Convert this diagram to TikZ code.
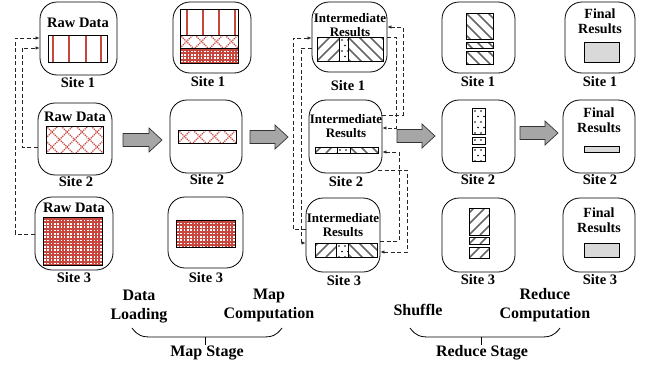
\documentclass[tikz,border=0pt]{standalone}
\usepackage{fontspec}
\setmainfont{Liberation Serif}
\usetikzlibrary{arrows.meta}
\definecolor{dred}{HTML}{C8463E}
\definecolor{arrgray}{HTML}{A6A6A6}
\definecolor{resgray}{HTML}{D9D9D9}
\newcommand\mkbox[5]{\node[sitebox, minimum width={#4-#2}, minimum height={#5-#3}] (#1) at ({(#2+#4)/2},{(#3+#5)/2}) {};}
\newcommand\hatchNE[4]{\begin{scope}\clip (#1,#2) rectangle (#3,#4);\foreach \k in {-88,-77,...,100}{\draw[hatchl] (#1+\k,#4) -- ++(80,-80);}\end{scope}\draw[inbox] (#1,#2) rectangle (#3,#4);}
\newcommand\hatchNW[4]{\begin{scope}\clip (#1,#2) rectangle (#3,#4);\foreach \k in {-88,-77,...,100}{\draw[hatchl] (#1+\k,#2) -- ++(80,80);}\end{scope}\draw[inbox] (#1,#2) rectangle (#3,#4);}
\newcommand\dotbox[4]{\begin{scope}\clip (#1,#2) rectangle (#3,#4);\foreach \i in {0,...,2}{\foreach \j in {0,...,5}{\fill ({#1+3+\i*6+mod(\j,2)*3},{#2+3+\j*5.5}) circle (0.8);}}\end{scope}\draw[inbox] (#1,#2) rectangle (#3,#4);}
\newcommand\redcross[4]{\begin{scope}\clip (#1,#2) rectangle (#3,#4);\foreach \k in {-60,-45,...,90}{\draw[redl] (#1+\k,#2) -- ++(60,60);\draw[redl] (#1+\k,#4) -- ++(60,-60);}\end{scope}\draw[inbox] (#1,#2) rectangle (#3,#4);}
\newcommand\reddots[4]{\fill[dred] (#1,#2) rectangle (#3,#4);\begin{scope}\clip (#1,#2) rectangle (#3,#4);\foreach \i in {0,...,19}{\foreach \j in {0,...,15}{\fill[white] ({#1+1+\i*3.3},{#2+1+\j*3.3}) rectangle ++(1.6,-1.6);}}\end{scope}\draw[inbox] (#1,#2) rectangle (#3,#4);}
\newcommand\bigarrow[3]{\draw[bigarr] (#1,#3-6.5) -- (#2-13,#3-6.5) -- (#2-13,#3-12) -- (#2,#3) -- (#2-13,#3+12) -- (#2-13,#3+6.5) -- (#1,#3+6.5) -- cycle;}
\begin{document}
\begin{tikzpicture}[x=1pt,y=-1pt,
  sitebox/.style={draw, line width=0.8pt, rounded corners=17pt, inner sep=0pt},
  inbox/.style={draw, line width=0.7pt},
  hatchl/.style={line width=1.6pt, black!60},
  redl/.style={dred, line width=1.2pt, dash pattern=on 1.2pt off 0.9pt},
  redv/.style={dred, line width=1.2pt},
  dl/.style={line width=0.7pt, dash pattern=on 4pt off 2.5pt, black!85},
  tip/.style={-{Latex[length=4pt,width=3.5pt]}},
  lbl/.style={font=\fontsize{14.5}{15}\selectfont\bfseries, inner sep=0pt},
  intxt/.style={font=\fontsize{13}{14}\selectfont\bfseries, align=center, inner sep=0pt},
  fintxt/.style={font=\fontsize{14}{14.5}\selectfont\bfseries, align=center, inner sep=0pt},
  bot/.style={font=\fontsize{16}{19}\selectfont\bfseries, align=center, inner sep=0pt},
  bigarr/.style={draw=black!80, fill=arrgray, line width=0.7pt, line join=miter}]
\useasboundingbox (0,0) rectangle (651,367);

% ---- boxes
\mkbox{a1}{40}{2}{117}{75}
\mkbox{a2}{38}{103}{112}{175}
\mkbox{a3}{35}{197}{113}{270}
\mkbox{b1}{173}{2}{251}{73}
\mkbox{b2}{170}{100}{242}{173}
\mkbox{b3}{168}{197}{243}{268}
\mkbox{c1}{312}{2}{387}{72}
\mkbox{c2}{309}{100}{382}{173}
\mkbox{c3}{306}{198}{380}{272}
\mkbox{d1}{442}{2}{515}{73}
\mkbox{d2}{442}{100}{515}{173}
\mkbox{d3}{442}{198}{515}{272}
\mkbox{e1}{565}{2}{635}{73}
\mkbox{e2}{563}{100}{635}{173}
\mkbox{e3}{563}{198}{635}{272}

% ---- site labels
\node[lbl] (la1) at (78,83) {Site 1};
\node[lbl] (la2) at (76,182) {Site 2};
\node[lbl] (la3) at (74,278) {Site 3};
\node[lbl] (lb1) at (208,82) {Site 1};
\node[lbl] (lb2) at (207,180) {Site 2};
\node[lbl] (lb3) at (206,278) {Site 3};
\node[lbl] (lc1) at (348,86) {Site 1};
\node[lbl] (lc2) at (346,182) {Site 2};
\node[lbl] (lc3) at (344,281) {Site 3};
\node[lbl] (ld1) at (478,82) {Site 1};
\node[lbl] (ld2) at (478,180) {Site 2};
\node[lbl] (ld3) at (478,280) {Site 3};
\node[lbl] (le1) at (600,82) {Site 1};
\node[lbl] (le2) at (600,180) {Site 2};
\node[lbl] (le3) at (600,280) {Site 3};

% ---- texts inside boxes
\node[lbl] (ta1) at (78,23) {Raw Data};
\node[lbl] (ta2) at (75,117) {Raw Data};
\node[lbl] (ta3) at (74,208) {Raw Data};
\node[intxt] (tc1) at (350,25) {Intermediate\\Results};
\node[intxt] (tc2) at (346,126) {Intermediate\\Results};
\node[intxt] (tc3) at (343,225) {Intermediate\\Results};
\node[fintxt] (te1) at (600,21) {Final\\Results};
\node[fintxt] (te2) at (599,120) {Final\\Results};
\node[fintxt] (te3) at (599,220) {Final\\Results};

% ---- raw data
\draw[inbox] (48,35) rectangle (107,62);
\foreach \x in {53,69,86,101} \draw[redv] (\x,35.5) -- (\x,61.5);
\redcross{46}{126}{103}{153}
\reddots{43}{217}{102}{265}

% ---- map output
\draw[inbox] (180,9) rectangle (238,35);
\foreach \x in {187,203,219,235} \draw[redv] (\x,9.5) -- (\x,34.5);
\redcross{180}{35}{238}{48}
\reddots{180}{48}{238}{63}
\redcross{178}{130}{236}{143}
\reddots{176}{220}{235}{247}

% ---- intermediate results
\hatchNE{317}{37}{339}{61}\dotbox{339}{37}{348}{61}\hatchNW{348}{37}{383}{61}
\hatchNE{315}{147}{337}{153}\dotbox{337}{147}{350}{153}\hatchNW{350}{147}{378}{153}
\hatchNE{315}{243}{336}{257}\dotbox{336}{243}{348}{257}\hatchNW{348}{243}{377}{257}

% ---- shuffled
\hatchNW{466}{13}{493}{39}\hatchNW{466}{42}{493}{48}\hatchNW{466}{51}{493}{64}
\dotbox{472}{108}{485}{134}\dotbox{472}{137}{485}{144}\dotbox{472}{147}{485}{161}
\hatchNE{469}{208}{489}{235}\hatchNE{469}{237}{489}{244}\hatchNE{469}{247}{489}{258}

% ---- final results
\draw[inbox, fill=resgray] (584,42) rectangle (619,62);
\draw[inbox, fill=resgray] (584,146) rectangle (619,152);
\draw[inbox, fill=resgray] (584,243) rectangle (619,257);

% ---- big arrows
\bigarrow{123}{162}{140}
\bigarrow{250}{288}{137}
\bigarrow{397}{435}{136}
\bigarrow{520}{558}{133}

% ---- data loading connectors
\draw[dl, tip] (a3.west |- 0,234) -| (15,38) -- (a1.west |- 0,38);
\draw[dl, tip] (a2.west |- 0,147) -| (22,48) -- (a1.west |- 0,48);

% ---- shuffle connectors
\draw[dl, tip] (c3.west |- 0,229) -| (293,38) -- (c1.west |- 0,38);
\draw[dl, tip] (c1.west |- 0,48) -| (301,243) -- (c3.west |- 0,243);
\draw[dl, tip] (c1.east |- 0,37) -| (396,128) -- (c2.east |- 0,128);
\draw[dl, tip] (c2.east |- 0,115) -| (403,27) -- (c1.east |- 0,27);
\draw[dl, tip] (c3.east |- 0,241) -| (399,152) -- (c2.east |- 0,152);
\draw[dl, tip] (378,170) -| (407,252) -- (c3.east |- 0,252);

% ---- bottom labels and braces
\node[bot] (dload) at (139,307) {Data\\Loading};
\node[bot] (mcomp) at (269,305) {Map\\Computation};
\node[bot] (shuf) at (418,310) {Shuffle};
\node[bot] (rcomp) at (545,305) {Reduce\\Computation};
\node[bot] (mstage) at (207,353) {Map Stage};
\node[bot] (rstage) at (482,353) {Reduce Stage};
\draw[line width=0.8pt] (132,328) .. controls (138,336) and (142,337) .. (152,337) -- (262,337) .. controls (272,337) and (276,336) .. (282,328);
\draw[line width=0.8pt] (205,337) -- (205,345);
\draw[line width=0.8pt] (410,328) .. controls (416,336) and (420,337) .. (430,337) -- (540,337) .. controls (550,337) and (554,336) .. (560,328);
\draw[line width=0.8pt] (481,337) -- (481,345);
\end{tikzpicture}
\end{document}
